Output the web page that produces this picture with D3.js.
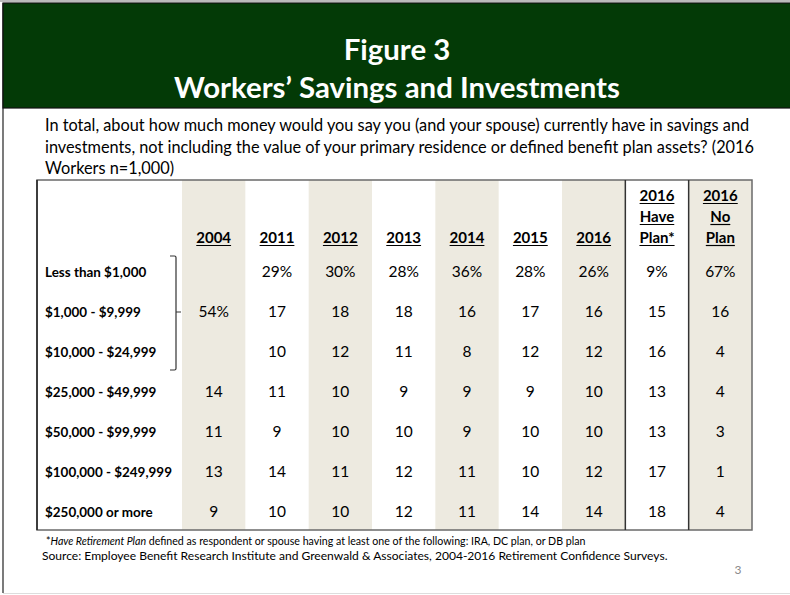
<!DOCTYPE html>
<html><head><meta charset="utf-8">
<script src="https://cdn.jsdelivr.net/npm/d3@7"></script>
<style>body{margin:0;background:#fff}svg{display:block}text{font-family:Lato,"Open Sans",sans-serif}</style>
</head><body><div id="chart"></div>
<script>
const titleLines = ["Figure 3", "Workers’ Savings and Investments"];
const questionLines = [
  "In total, about how much money would you say you (and your spouse) currently have in savings and",
  "investments, not including the value of your primary residence or defined benefit plan assets? (2016",
  "Workers n=1,000)"
];
const categories = ["Less than $1,000","$1,000 - $9,999","$10,000 - $24,999","$25,000 - $49,999","$50,000 - $99,999","$100,000 - $249,999","$250,000 or more"];
const columns = ["2004","2011","2012","2013","2014","2015","2016","2016 Have Plan*","2016 No Plan"];
const columnHeaders = [["2004"],["2011"],["2012"],["2013"],["2014"],["2015"],["2016"],["2016","Have","Plan*"],["2016","No","Plan"]];
// 2004: 54% covers all three ranges under $25,000 (bracketed)
const values2004 = [null, 54, null, 14, 11, 13, 9];
const values2011 = [29, 17, 10, 11, 9, 14, 10];
const values2012 = [30, 18, 12, 10, 10, 11, 10];
const values2013 = [28, 18, 11, 9, 10, 12, 12];
const values2014 = [36, 16, 8, 9, 9, 11, 11];
const values2015 = [28, 17, 12, 9, 10, 10, 14];
const values2016 = [26, 16, 12, 10, 10, 12, 14];
const valuesHavePlan = [9, 15, 16, 13, 13, 17, 18];
const valuesNoPlan = [67, 16, 4, 4, 3, 1, 4];
const shadedColumns = ["2004","2012","2014","2016","2016 No Plan"];
const footnoteItalic = "Have Retirement Plan";
const footnoteRest = " defined as respondent or spouse having at least one of the following: IRA, DC plan, or DB plan";
const sourceText = "Source:  Employee Benefit Research Institute and Greenwald & Associates, 2004-2016 Retirement Confidence Surveys.";
const pageNumber = "3";

const seriesValues = [values2004, values2011, values2012, values2013, values2014, values2015, values2016, valuesHavePlan, valuesNoPlan];

const W = 790, H = 595;
const svg = d3.select("#chart").append("svg").attr("width", W).attr("height", H);

// page frame
svg.append("line").attr("x1", 3).attr("x2", 3).attr("y1", 3).attr("y2", 593).attr("stroke", "#222").attr("stroke-width", 1.2);
svg.append("line").attr("x1", 3).attr("x2", W).attr("y1", 593.5).attr("y2", 593.5).attr("stroke", "#ddd").attr("stroke-width", 1);
svg.append("line").attr("x1", 0).attr("x2", W).attr("y1", 1).attr("y2", 1).attr("stroke", "#bbb").attr("stroke-width", 2);

// title banner
svg.append("rect").attr("x", 3).attr("y", 3).attr("width", W).attr("height", 105)
  .attr("fill", "#033a06").attr("stroke", "#111").attr("stroke-width", 1.2);

function fitSize(sel, base, target) {
  const len = sel.node().getComputedTextLength();
  return base * target / len;
}

const t2 = svg.append("text").attr("x", W / 2 + 2).attr("y", 98).attr("text-anchor", "middle")
  .attr("fill", "#fff").attr("font-weight", 700).attr("font-size", 30).text(titleLines[1]);
const titleSize = fitSize(t2, 30, 446);
t2.attr("font-size", titleSize);
svg.append("text").attr("x", W / 2 + 2).attr("y", 60).attr("text-anchor", "middle")
  .attr("fill", "#fff").attr("font-weight", 700).attr("font-size", titleSize).text(titleLines[0]);

// question
const q = svg.append("g");
const q0 = q.append("text").attr("x", 45).attr("y", 131).attr("font-size", 16).text(questionLines[0]);
const qSize = fitSize(q0, 16, 705);
q.selectAll("text").remove();
q.selectAll("text").data(questionLines).join("text")
  .attr("x", 45).attr("y", (d, i) => 131 + i * 21.5)
  .attr("font-size", qSize).attr("fill", "#000").text(d => d);

// scales
const x = d3.scaleBand().domain(columns).range([182, 752]);
const y = d3.scalePoint().domain(categories).range([277, 517]);
const tableTop = 180, tableBottom = 530, tableLeft = 37;

// shaded columns
svg.append("g").selectAll("rect").data(shadedColumns).join("rect")
  .attr("x", d => x(d)).attr("y", tableTop).attr("width", x.bandwidth()).attr("height", tableBottom - tableTop)
  .attr("fill", "#edeae0");

// table border
svg.append("rect").attr("x", tableLeft).attr("y", tableTop).attr("width", x.range()[1] - tableLeft).attr("height", tableBottom - tableTop)
  .attr("fill", "none").attr("stroke", "#6a6a6a").attr("stroke-width", 1.5);
svg.append("line").attr("x1", tableLeft).attr("x2", tableLeft).attr("y1", tableTop).attr("y2", tableBottom)
  .attr("stroke", "#222").attr("stroke-width", 1.5);
// separators for 2016 breakdown
svg.append("g").selectAll("line").data(["2016 Have Plan*", "2016 No Plan"]).join("line")
  .attr("x1", d => x(d)).attr("x2", d => x(d)).attr("y1", tableTop).attr("y2", tableBottom)
  .attr("stroke", "#333").attr("stroke-width", 1.5);

// headers
const hdr = svg.append("g");
columns.forEach((c, ci) => {
  const lines = columnHeaders[ci];
  lines.forEach((ln, li) => {
    const by = 243 - (lines.length - 1 - li) * 21;
    const t = hdr.append("text").attr("x", x(c) + x.bandwidth() / 2).attr("y", by)
      .attr("text-anchor", "middle").attr("font-weight", 700).attr("font-size", 15).attr("fill", "#000").text(ln);
    const w = t.node().getComputedTextLength();
    hdr.append("line").attr("x1", x(c) + x.bandwidth() / 2 - w / 2).attr("x2", x(c) + x.bandwidth() / 2 + w / 2)
      .attr("y1", by + 2.5).attr("y2", by + 2.5).attr("stroke", "#000").attr("stroke-width", 1.2);
  });
});

// row labels
const rl = svg.append("g");
const labels = rl.selectAll("text").data(categories).join("text")
  .attr("x", 45).attr("y", d => y(d)).attr("font-weight", 700).attr("font-size", 13).attr("fill", "#000").text(d => d);
const maxLen = d3.max(labels.nodes(), n => n.getComputedTextLength());
labels.attr("font-size", 13 * 127 / maxLen);

// values
const cells = [];
columns.forEach((c, ci) => {
  let first = true;
  seriesValues[ci].forEach((v, ri) => {
    if (v == null) return;
    cells.push({col: c, cat: categories[ri], text: v + (first ? "%" : "")});
    first = false;
  });
});
svg.append("g").selectAll("text").data(cells).join("text")
  .attr("x", d => x(d.col) + x.bandwidth() / 2).attr("y", d => y(d.cat))
  .attr("text-anchor", "middle").attr("font-size", 15.5).attr("fill", "#000").text(d => d.text);

// bracket for 2004 combined value
const bx = x("2004") - 6;
const bTop = y(categories[0]) - 21, bBot = y(categories[2]) + 13, bMid = y(categories[1]) - 5;
svg.append("path")
  .attr("d", `M${bx - 6},${bTop} L${bx - 1.5},${bTop} Q${bx},${bTop} ${bx},${bTop + 1.5} L${bx},${bBot - 1.5} Q${bx},${bBot} ${bx - 1.5},${bBot} L${bx - 6},${bBot} M${bx},${bMid} L${bx + 5},${bMid}`)
  .attr("fill", "none").attr("stroke", "#333").attr("stroke-width", 1.2);

// footnote
const fn = svg.append("text").attr("x", 46).attr("y", 545).attr("font-size", 10).attr("fill", "#000");
fn.append("tspan").text("*");
fn.append("tspan").attr("font-style", "italic").text(footnoteItalic);
fn.append("tspan").text(footnoteRest);
const fnSize = fitSize(fn, 10, 540);
fn.attr("font-size", fnSize);

const src = svg.append("text").attr("x", 42).attr("y", 560).attr("font-size", 12).attr("fill", "#000").text(sourceText);
src.attr("font-size", fitSize(src, 12, 626));

svg.append("text").attr("x", 738).attr("y", 574).attr("text-anchor", "middle").attr("font-size", 12)
  .attr("fill", "#8a8a8a").text(pageNumber);
</script>
</body></html>
